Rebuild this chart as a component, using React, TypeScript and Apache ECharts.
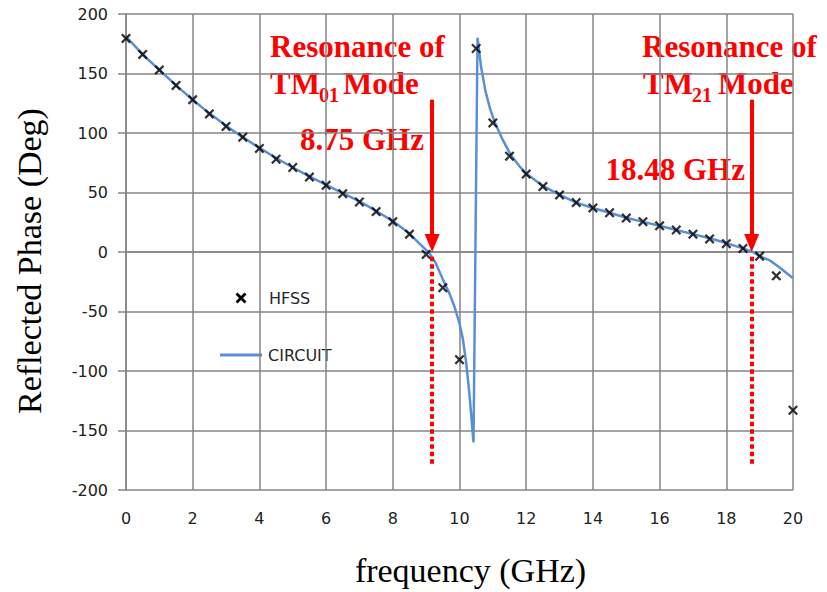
import React, { useEffect, useRef } from "react";
import * as echarts from "echarts";

// HFSS simulated points (frequency GHz, reflected phase deg)
const hfssFreq = [0, 0.5, 1, 1.5, 2, 2.5, 3, 3.5, 4, 4.5, 5, 5.5, 6, 6.5, 7, 7.5, 8, 8.5, 9, 9.5, 10, 10.5, 11, 11.5, 12, 12.5, 13, 13.5, 14, 14.5, 15, 15.5, 16, 16.5, 17, 17.5, 18, 18.5, 19, 19.5, 20];
const hfssPhase = [179.5, 166, 153, 140, 128, 116, 105.5, 96.5, 87, 78, 71, 63, 56, 49, 42, 34, 25.5, 15, -2, -30, -90.5, 171, 108.5, 80.5, 65.5, 55, 48, 41.5, 37, 33, 28.5, 25.5, 22, 18.5, 15, 11, 7, 3, -3.5, -20, -133];

// Circuit model curve
const circuitFreq = [0, 0.5, 1, 1.5, 2, 2.5, 3, 3.5, 4, 4.5, 5, 5.5, 6, 6.5, 7, 7.5, 8, 8.5, 8.8, 9.1, 9.3, 9.5, 9.7, 9.85, 10.0, 10.1, 10.2, 10.3, 10.42, 10.54, 10.65, 10.78, 10.92, 11.05, 11.3, 11.55, 11.8, 12, 12.5, 13, 13.5, 14, 14.5, 15, 15.5, 16, 16.5, 17, 17.5, 18, 18.5, 18.8, 19, 19.3, 19.6, 20];
const circuitPhase = [181, 166, 153, 140, 128, 116.5, 106, 96.5, 87.5, 79, 71, 63.5, 56.5, 49.5, 42.5, 34.5, 26, 15.5, 7, -1, -10, -23, -35, -46, -60, -73, -93, -120, -160, 180, 155, 135, 120, 109.5, 94, 81, 72, 66, 55.5, 48, 41.5, 37, 33, 28.8, 25.3, 22, 18.5, 15, 11.5, 7.5, 3, 0, -3.5, -7, -13, -22];

// Resonance annotations
const arrowFreq = [9.18, 18.76];
const arrowTopPhase = 128;
const arrowEndPhase = 7.5;
const dottedPhase = [-4, -178];
const modeSubscripts = ["01", "21"];
const freqLabels = ["8.75 GHz", "18.48 GHz"];

const GRID = "#858585";
const RED = "#ff0000";
const BLUE = "#5a8fd8";
const annoFont = { fontFamily: "Liberation Serif", fontWeight: "bold" as const, fill: RED };

export default function App() {
  const ref = useRef<HTMLDivElement>(null);
  useEffect(() => {
    const chart = echarts.init(ref.current!, null, { renderer: "svg" });
    const circuitData = circuitFreq.map((f, i) => [f, circuitPhase[i]]);
    const hfssData = hfssFreq.map((f, i) => [f, hfssPhase[i]]);

    const txt = (text: string, x: number, y: number, size: number, align = "left") => ({
      type: "text",
      x,
      y,
      silent: true,
      style: { ...annoFont, text, fontSize: size, align, verticalAlign: "middle" },
    });

    const option: any = {
      animation: false,
      backgroundColor: "#ffffff",
      grid: { left: 126, right: 34, top: 14, bottom: 102, containLabel: false },
      xAxis: {
        type: "value",
        min: 0,
        max: 20,
        interval: 2,
        axisLine: { show: true, lineStyle: { color: GRID, width: 1.5 } },
        axisTick: { show: false },
        splitLine: { show: true, lineStyle: { color: GRID, width: 1.5 } },
        axisLabel: { color: "#222", fontFamily: "DejaVu Sans", fontSize: 16, margin: 20 },
        name: "frequency (GHz)",
        nameLocation: "middle",
        nameGap: 63,
        nameTextStyle: { fontFamily: "Liberation Serif", fontSize: 34, color: "#000", padding: [0, 0, 0, 22] },
      },
      yAxis: {
        type: "value",
        min: -200,
        max: 200,
        interval: 50,
        axisLine: { show: true, lineStyle: { color: GRID, width: 1.5 } },
        axisTick: { show: true, length: 8, lineStyle: { color: GRID, width: 1.5 } },
        splitLine: { show: true, lineStyle: { color: GRID, width: 1.5 } },
        axisLabel: { color: "#222", fontFamily: "DejaVu Sans", fontSize: 16, margin: 18 },
        name: "Reflected Phase (Deg)",
        nameLocation: "middle",
        nameGap: 80,
        nameRotate: 90,
        nameTextStyle: { fontFamily: "Liberation Serif", fontSize: 34, color: "#000", padding: [0, 18, 0, 0] },
      },
      series: [
        {
          name: "guides",
          type: "line",
          data: [],
          silent: true,
          markLine: {
            silent: true,
            symbol: ["none", "none"],
            label: { show: false },
            lineStyle: { color: RED, width: 4, type: [4.5, 3] },
            emphasis: { disabled: true },
            data: arrowFreq.map((f) => [{ coord: [f, dottedPhase[0]] }, { coord: [f, dottedPhase[1]] }]),
          },
        },
        {
          name: "CIRCUIT",
          type: "line",
          data: circuitData,
          showSymbol: false,
          symbol: "none",
          lineStyle: { color: BLUE, width: 2.5 },
          z: 3,
          markLine: {
            silent: true,
            symbol: ["none", "triangle"],
            symbolSize: [15, 18],
            label: { show: false },
            lineStyle: { color: RED, width: 4, type: "solid" },
            itemStyle: { color: RED },
            emphasis: { disabled: true },
            data: arrowFreq.map((f) => [{ coord: [f, arrowTopPhase] }, { coord: [f, arrowEndPhase] }]),
          },
        },
        {
          name: "HFSS",
          type: "scatter",
          data: hfssData,
          symbol: "path://M0,1.6 L1.6,0 L5,3.4 L8.4,0 L10,1.6 L6.6,5 L10,8.4 L8.4,10 L5,6.6 L1.6,10 L0,8.4 L3.4,5 Z",
          symbolSize: 10,
          itemStyle: { color: "#000" },
          z: 4,
        },
      ],
      graphic: [
        // annotation 1
        txt("Resonance of", 270, 46, 31),
        txt("TM", 270, 83, 31),
        txt(modeSubscripts[0], 319, 95, 20),
        txt("Mode", 343, 83, 31),
        txt(freqLabels[0], 424, 139.5, 31, "right"),
        // annotation 2
        txt("Resonance of", 642, 46, 31),
        txt("TM", 643, 83, 31),
        txt(modeSubscripts[1], 692, 95, 20),
        txt("Mode", 718, 83, 31),
        txt(freqLabels[1], 745, 169.5, 31, "right"),
        // legend
        {
          type: "group",
          x: 241,
          y: 298,
          silent: true,
          children: [
            { type: "line", shape: { x1: -4.5, y1: -4.5, x2: 4.5, y2: 4.5 }, style: { stroke: "#000", lineWidth: 2.8 } },
            { type: "line", shape: { x1: -4.5, y1: 4.5, x2: 4.5, y2: -4.5 }, style: { stroke: "#000", lineWidth: 2.8 } },
          ],
        },
        {
          type: "text",
          x: 269,
          y: 298,
          silent: true,
          style: { text: "HFSS", fontFamily: "DejaVu Sans", fontSize: 16, fill: "#262626", verticalAlign: "middle" },
        },
        {
          type: "line",
          silent: true,
          shape: { x1: 220, y1: 355, x2: 262, y2: 355 },
          style: { stroke: BLUE, lineWidth: 3 },
        },
        {
          type: "text",
          x: 268,
          y: 355,
          silent: true,
          style: { text: "CIRCUIT", fontFamily: "DejaVu Sans", fontSize: 16, fill: "#262626", verticalAlign: "middle" },
        },
      ],
    };
    chart.setOption(option);
    return () => chart.dispose();
  }, []);
  return <div ref={ref} style={{ position: "fixed", left: 0, top: 0, width: 827, height: 592 }} />;
}
